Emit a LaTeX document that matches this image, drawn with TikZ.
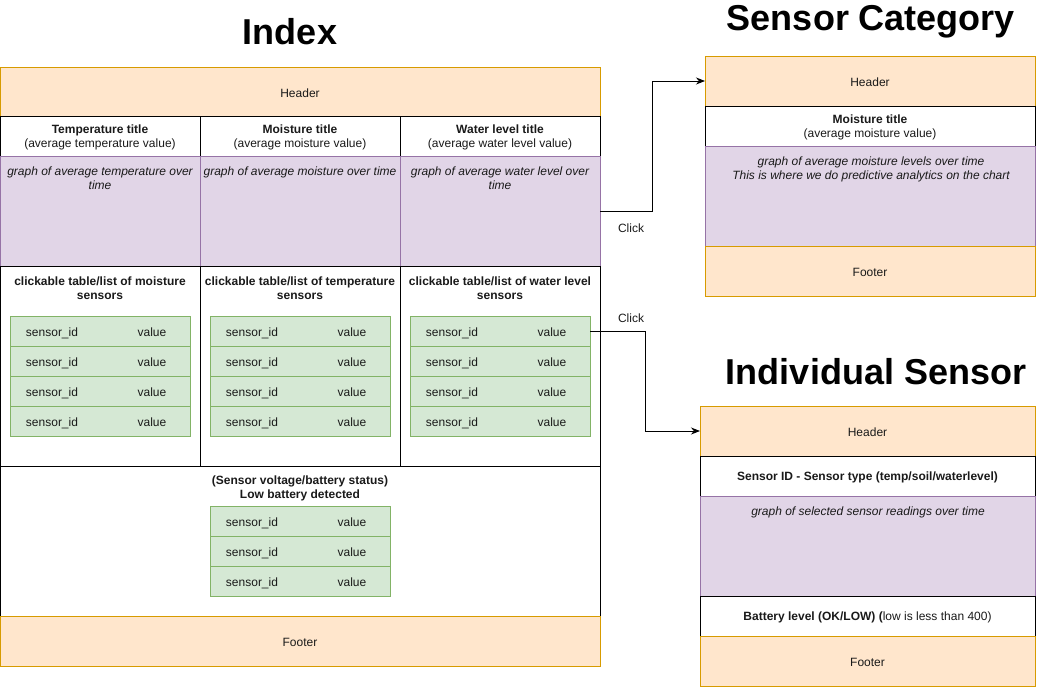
\documentclass[tikz,border=0pt]{standalone}
\usepackage{fontspec}
\setmainfont{Liberation Sans}
\usetikzlibrary{arrows.meta}
\definecolor{ofill}{HTML}{FFE6CC}
\definecolor{oline}{HTML}{D79B00}
\definecolor{pfill}{HTML}{E1D5E7}
\definecolor{pline}{HTML}{9673A6}
\definecolor{gfill}{HTML}{D5E8D4}
\definecolor{gline}{HTML}{82B366}
\definecolor{txtc}{HTML}{1A1A1A}
\newcommand\bx[6]{\node[box,#2,minimum width=#5pt,minimum height=#6pt] (#1) at (#3,#4) {};}
\begin{document}
\begin{tikzpicture}[x=1pt,y=-1pt,
  box/.style={draw, inner sep=0, outer sep=0, line width=0.9pt, anchor=north west},
  orng/.style={fill=ofill, draw=oline},
  purp/.style={fill=pfill, draw=pline},
  grn/.style={fill=gfill, draw=gline},
  wht/.style={fill=white, draw=black},
  txt/.style={font=\fontsize{12}{14}\selectfont, align=center, inner sep=0, text=txtc, yshift=-1.5pt},
  itx/.style={txt, font=\fontsize{12}{14}\selectfont\itshape, anchor=north, yshift=-3pt},
  ttl/.style={font=\fontsize{36}{40}\selectfont\bfseries, inner sep=0},
  conn/.style={draw=black, line width=0.9pt, -{Stealth[length=9pt,width=7pt]}}]
\useasboundingbox (0,0) rectangle (1041,687);

% ---------------- Index ----------------
\node[ttl] (tidx) at (290,32) {Index};
\bx{ih}{orng}{0}{67}{600}{49}
\node[txt] (ihT) at (ih.center) {Header};

\bx{t1}{wht}{0}{116}{200}{40}
\bx{t2}{wht}{200}{116}{200}{40}
\bx{t3}{wht}{400}{116}{200}{40}
\node[txt] (t1T) at (t1.center) {\textbf{Temperature title}\\(average temperature value)};
\node[txt] (t2T) at (t2.center) {\textbf{Moisture title}\\(average moisture value)};
\node[txt] (t3T) at (t3.center) {\textbf{Water level title}\\(average water level value)};

\bx{g1}{purp}{0}{156}{200}{110}
\bx{g2}{purp}{200}{156}{200}{110}
\bx{g3}{purp}{400}{156}{200}{110}
\node[itx] (g1T) at (100,162) {graph of average temperature over\\time};
\node[itx] (g2T) at (300,162) {graph of average moisture over time};
\node[itx] (g3T) at (500,162) {graph of average water level over\\time};

\bx{l1}{wht}{0}{266}{200}{200}
\bx{l2}{wht}{200}{266}{200}{200}
\bx{l3}{wht}{400}{266}{200}{200}
\node[txt,font=\fontsize{12}{14}\selectfont\bfseries] (l1T) at (100,287) {clickable table/list of moisture\\sensors};
\node[txt,font=\fontsize{12}{14}\selectfont\bfseries] (l2T) at (300,287) {clickable table/list of temperature\\sensors};
\node[txt,font=\fontsize{12}{14}\selectfont\bfseries] (l3T) at (500,287) {clickable table/list of water level\\sensors};

\foreach \c/\x in {a/10,b/210,c/410}{
  \foreach \r in {0,1,2,3}{
    \node[box,grn,minimum width=180pt,minimum height=30pt] (r\c\r) at (\x,{316+30*\r}) {};
    \node[txt,yshift=-0.5pt] (r\c\r s) at ({\x+42},{331+30*\r}) {sensor\_id};
    \node[txt] (r\c\r v) at ({\x+142},{331+30*\r}) {value};
  }
}

\bx{bt}{wht}{0}{466}{600}{150}
\node[txt,font=\fontsize{12}{13.5}\selectfont\bfseries] (btT) at (300,487) {(Sensor voltage/battery status)\\Low battery detected};
\foreach \r in {0,1,2}{
  \node[box,grn,minimum width=180pt,minimum height=30pt] (rd\r) at (210,{506+30*\r}) {};
  \node[txt,yshift=-0.5pt] (rd\r s) at (252,{521+30*\r}) {sensor\_id};
  \node[txt] (rd\r v) at (352,{521+30*\r}) {value};
}

\bx{ifo}{orng}{0}{616}{600}{50}
\node[txt] (ifoT) at (ifo.center) {Footer};

% ---------------- Sensor Category ----------------
\node[ttl] (tsc) at (871,22) {Sensor Category};
\bx{sch}{orng}{705}{56}{330}{50}
\node[txt] (schT) at (sch.center) {Header};
\bx{sct}{wht}{705}{106}{330}{40}
\node[txt] (sctT) at (sct.center) {\textbf{Moisture title}\\(average moisture value)};
\bx{scg}{purp}{705}{146}{330}{100}
\node[itx] (scgT) at (871,152) {graph of average moisture levels over time\\This is where we do predictive analytics on the chart};
\bx{scf}{orng}{705}{246}{330}{50}
\node[txt] (scfT) at (scf.center) {Footer};

% ---------------- Individual Sensor ----------------
\node[ttl] (tis) at (876,372) {Individual Sensor};
\bx{ish}{orng}{700}{406}{335}{50}
\node[txt] (ishT) at (ish.center) {Header};
\bx{isi}{wht}{700}{456}{335}{40}
\node[txt] (isiT) at (isi.center) {\textbf{Sensor ID - Sensor type (temp/soil/waterlevel)}};
\bx{isg}{purp}{700}{496}{335}{100}
\node[itx] (isgT) at (868,502) {graph of selected sensor readings over time};
\bx{isb}{wht}{700}{596}{335}{40}
\node[txt] (isbT) at (isb.center) {\textbf{Battery level (OK/LOW) (}low is less than 400)};
\bx{isf}{orng}{700}{636}{335}{50}
\node[txt] (isfT) at (isf.center) {Footer};

% ---------------- Connectors ----------------
\draw[conn] (g3.east) -- ++(52,0) |- (sch.west);
\node[txt] (c1) at (631,227) {Click};
\draw[conn] (rc0.east) -- ++(55,0) |- (ish.west);
\node[txt] (c2) at (631,317) {Click};
\end{tikzpicture}
\end{document}
